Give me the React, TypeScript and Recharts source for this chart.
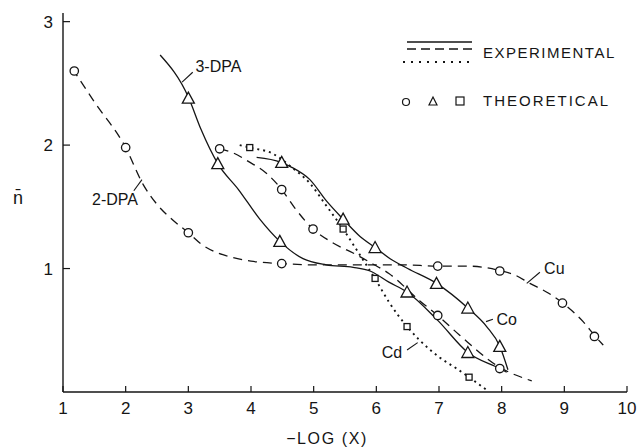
import React from 'react';
import {
  ComposedChart, Line, Scatter, XAxis, YAxis, ReferenceLine, ReferenceDot, Label,
} from 'recharts';

type Pt = [number, number];

// experimental curves
const cu2DpaCurve: Pt[] = [
  [1.15, 2.62], [1.5, 2.35], [2, 1.98], [2.28, 1.68], [2.5, 1.52], [2.76, 1.39], [3, 1.29],
  [3.2, 1.2], [3.45, 1.13], [3.7, 1.09], [4, 1.06], [4.5, 1.04], [5, 1.03], [5.7, 1.03],
  [6.4, 1.03], [7, 1.02], [7.45, 1.02], [8, 0.98], [8.2, 0.95], [8.45, 0.88], [8.75, 0.8],
  [9, 0.71], [9.3, 0.57], [9.48, 0.46], [9.62, 0.38],
];
const cu3DpaCurve: Pt[] = [
  [2.55, 2.73], [3, 2.39], [3.2, 2.13], [3.47, 1.85], [3.8, 1.64], [4.14, 1.4], [4.46, 1.22],
  [4.83, 1.08], [5.2, 1.03], [5.63, 1.01], [5.9, 0.98], [6.2, 0.89], [6.49, 0.81],
  [6.98, 0.58], [7.46, 0.32], [7.97, 0.19], [8.08, 0.16],
];
const co2DpaCurve: Pt[] = [
  [3.5, 1.97], [3.7, 1.94], [3.95, 1.87], [4.25, 1.77], [4.49, 1.64], [4.7, 1.49],
  [4.99, 1.32], [5.3, 1.21], [5.69, 1.11], [5.9, 1.05], [6.2, 0.96], [6.69, 0.74],
  [6.98, 0.62], [7.33, 0.46], [7.97, 0.2], [8.48, 0.09],
];
const co3DpaCurve: Pt[] = [
  [4.09, 1.9], [4.48, 1.86], [4.65, 1.82], [4.94, 1.72], [5.2, 1.55], [5.47, 1.4],
  [5.74, 1.26], [5.98, 1.17], [6.22, 1.08], [6.5, 1.0], [6.96, 0.88], [7.46, 0.68],
  [7.76, 0.53], [7.97, 0.37], [8.1, 0.18],
];
const cdCurve: Pt[] = [
  [3.82, 2.0], [3.98, 1.98], [4.35, 1.93], [4.65, 1.82], [4.94, 1.69], [5.2, 1.51],
  [5.47, 1.32], [5.7, 1.14], [6.0, 0.9], [6.2, 0.73], [6.49, 0.53], [6.69, 0.42],
  [7.01, 0.28], [7.28, 0.19], [7.48, 0.12], [7.75, 0.02],
];

// theoretical points
const circlePts: Pt[] = [
  [1.18, 2.6], [2, 1.98], [3, 1.29], [4.49, 1.04], [6.98, 1.02], [7.97, 0.98], [8.97, 0.72],
  [9.48, 0.45], [3.5, 1.97], [4.49, 1.64], [4.99, 1.32], [6.98, 0.62], [7.97, 0.19],
];
const trianglePts: Pt[] = [
  [3, 2.38], [3.47, 1.85], [4.46, 1.22], [6.49, 0.81], [7.46, 0.32],
  [4.49, 1.86], [5.47, 1.4], [5.98, 1.17], [6.96, 0.88], [7.46, 0.68], [7.97, 0.37],
];
const squarePts: Pt[] = [[3.98, 1.98], [5.47, 1.32], [5.98, 0.92], [6.49, 0.53], [7.48, 0.12]];

const xTicks = [1, 2, 3, 4, 5, 6, 7, 8, 9, 10];
const yTicks = [1, 2, 3];

// curve labels and leader lines
const curveLabels: { text: string; at: Pt }[] = [
  { text: '3-DPA', at: [3.48, 2.64] },
  { text: '2-DPA', at: [1.83, 1.56] },
  { text: 'Cu', at: [8.84, 1.0] },
  { text: 'Co', at: [8.08, 0.59] },
  { text: 'Cd', at: [6.25, 0.32] },
];
const leaders: [Pt, Pt][] = [
  [[2.9, 2.51], [3.07, 2.59]],
  [[2.13, 1.63], [2.26, 1.72]],
  [[8.4, 0.88], [8.61, 0.97]],
  [[7.75, 0.57], [7.86, 0.59]],
  [[6.49, 0.34], [6.66, 0.4]],
];

const toObj = (pts: Pt[]) => pts.map(([x, y]) => ({ x, y }));
const INK = '#151515';
const FONT = '"Liberation Sans", Arial, sans-serif';

const CircleMark = (p: any) => <circle cx={p.cx} cy={p.cy} r={4.2} fill="#fff" stroke={INK} strokeWidth={1.3} />;
const TriMark = (p: any) => (
  <polygon
    points={`${p.cx - 6},${p.cy + 5} ${p.cx + 6},${p.cy + 5} ${p.cx},${p.cy - 6}`}
    fill="#fff" stroke={INK} strokeWidth={1.3}
  />
);
const SquareMark = (p: any) => <rect x={p.cx - 3} y={p.cy - 3} width={6} height={6} fill="#fff" stroke={INK} strokeWidth={1.3} />;

const LegendBox = () => (
  <svg width={236} height={80} style={{ position: 'absolute', left: 399, top: 38 }}>
    <line x1={8} x2={73} y1={4} y2={4} stroke={INK} strokeWidth={1.3} />
    <line x1={8} x2={73} y1={11} y2={11} stroke={INK} strokeWidth={1.3} strokeDasharray="9 5" />
    <line x1={4} x2={73} y1={24} y2={24} stroke={INK} strokeWidth={1.8} strokeDasharray="2 6" />
    <text x={84} y={14} dominantBaseline="central" fontSize={15} letterSpacing={1.5} fill={INK}>EXPERIMENTAL</text>
    <circle cx={7} cy={64} r={3.5} fill="#fff" stroke={INK} strokeWidth={1.2} />
    <polygon points="30,67 38,67 34,59" fill="#fff" stroke={INK} strokeWidth={1.2} />
    <rect x={57} y={59} width={8} height={8} fill="#fff" stroke={INK} strokeWidth={1.2} />
    <text x={84} y={62} dominantBaseline="central" fontSize={15} letterSpacing={2} fill={INK}>THEORETICAL</text>
  </svg>
);

const curves: { data: Pt[]; dash?: string; width: number }[] = [
  { data: cu2DpaCurve, dash: '9 6', width: 1.3 },
  { data: cu3DpaCurve, width: 1.3 },
  { data: co2DpaCurve, dash: '9 6', width: 1.3 },
  { data: co3DpaCurve, width: 1.3 },
  { data: cdCurve, dash: '2 4', width: 1.9 },
];

export default function App() {
  return (
    <div style={{ position: 'relative', width: 637, height: 448, fontFamily: FONT }}>
      {/* chart fills the whole page, so drop the body margin and any scrollbars */}
      <style>{'html, body { margin: 0; padding: 0; overflow: hidden; }'}</style>
      <ComposedChart width={637} height={448} margin={{ top: 13, right: 10, bottom: 0, left: 0 }}>
        <XAxis
          type="number" dataKey="x" domain={[1, 10]} ticks={xTicks} allowDataOverflow
          height={56} tickSize={-6} tickMargin={16}
          axisLine={{ stroke: INK, strokeWidth: 1.4 }} tickLine={{ stroke: INK, strokeWidth: 1.2 }}
          tick={{ fill: INK, fontSize: 17 }}
        >
          <Label
            content={(props: any) => {
              const vb = props.viewBox;
              return (
                <text x={vb.x + vb.width / 2 - 18} y={vb.y + 46} textAnchor="middle" dominantBaseline="central"
                  fontSize={16} letterSpacing={1.6} fill={INK}>
                  −LOG (X)
                </text>
              );
            }}
          />
        </XAxis>
        <YAxis
          type="number" dataKey="y" domain={[0, 3.07]} ticks={yTicks} allowDataOverflow
          width={63} tickSize={-7} tickMargin={17}
          axisLine={{ stroke: INK, strokeWidth: 1.4 }} tickLine={{ stroke: INK, strokeWidth: 1.2 }}
          tick={{ fill: INK, fontSize: 17 }}
        >
          <Label
            content={(props: any) => {
              const vb = props.viewBox;
              return (
                <text x={vb.x + 18} y={vb.y + vb.height / 2 - 5} textAnchor="middle" dominantBaseline="central"
                  fontSize={18} fill={INK}>
                  n̄
                </text>
              );
            }}
          />
        </YAxis>

        {curves.map((c, i) => (
          <Line
            key={`curve-${i}`} data={toObj(c.data)} dataKey="y" type="monotone"
            stroke={INK} strokeWidth={c.width} strokeDasharray={c.dash}
            dot={false} activeDot={false} isAnimationActive={false}
          />
        ))}

        {leaders.map(([a, b], i) => (
          <ReferenceLine
            key={`leader-${i}`} segment={[{ x: a[0], y: a[1] }, { x: b[0], y: b[1] }]}
            stroke={INK} strokeWidth={1.1} ifOverflow="visible"
          />
        ))}

        <Scatter data={toObj(circlePts)} dataKey="y" shape={CircleMark} isAnimationActive={false} />
        <Scatter data={toObj(trianglePts)} dataKey="y" shape={TriMark} isAnimationActive={false} />
        <Scatter data={toObj(squarePts)} dataKey="y" shape={SquareMark} isAnimationActive={false} />

        {curveLabels.map((l) => (
          <ReferenceDot
            key={l.text} x={l.at[0]} y={l.at[1]} r={0} fill="none" stroke="none" ifOverflow="visible"
            label={{ value: l.text, position: 'center', fill: INK, fontSize: 16 }}
          />
        ))}
      </ComposedChart>
      <LegendBox />
    </div>
  );
}
